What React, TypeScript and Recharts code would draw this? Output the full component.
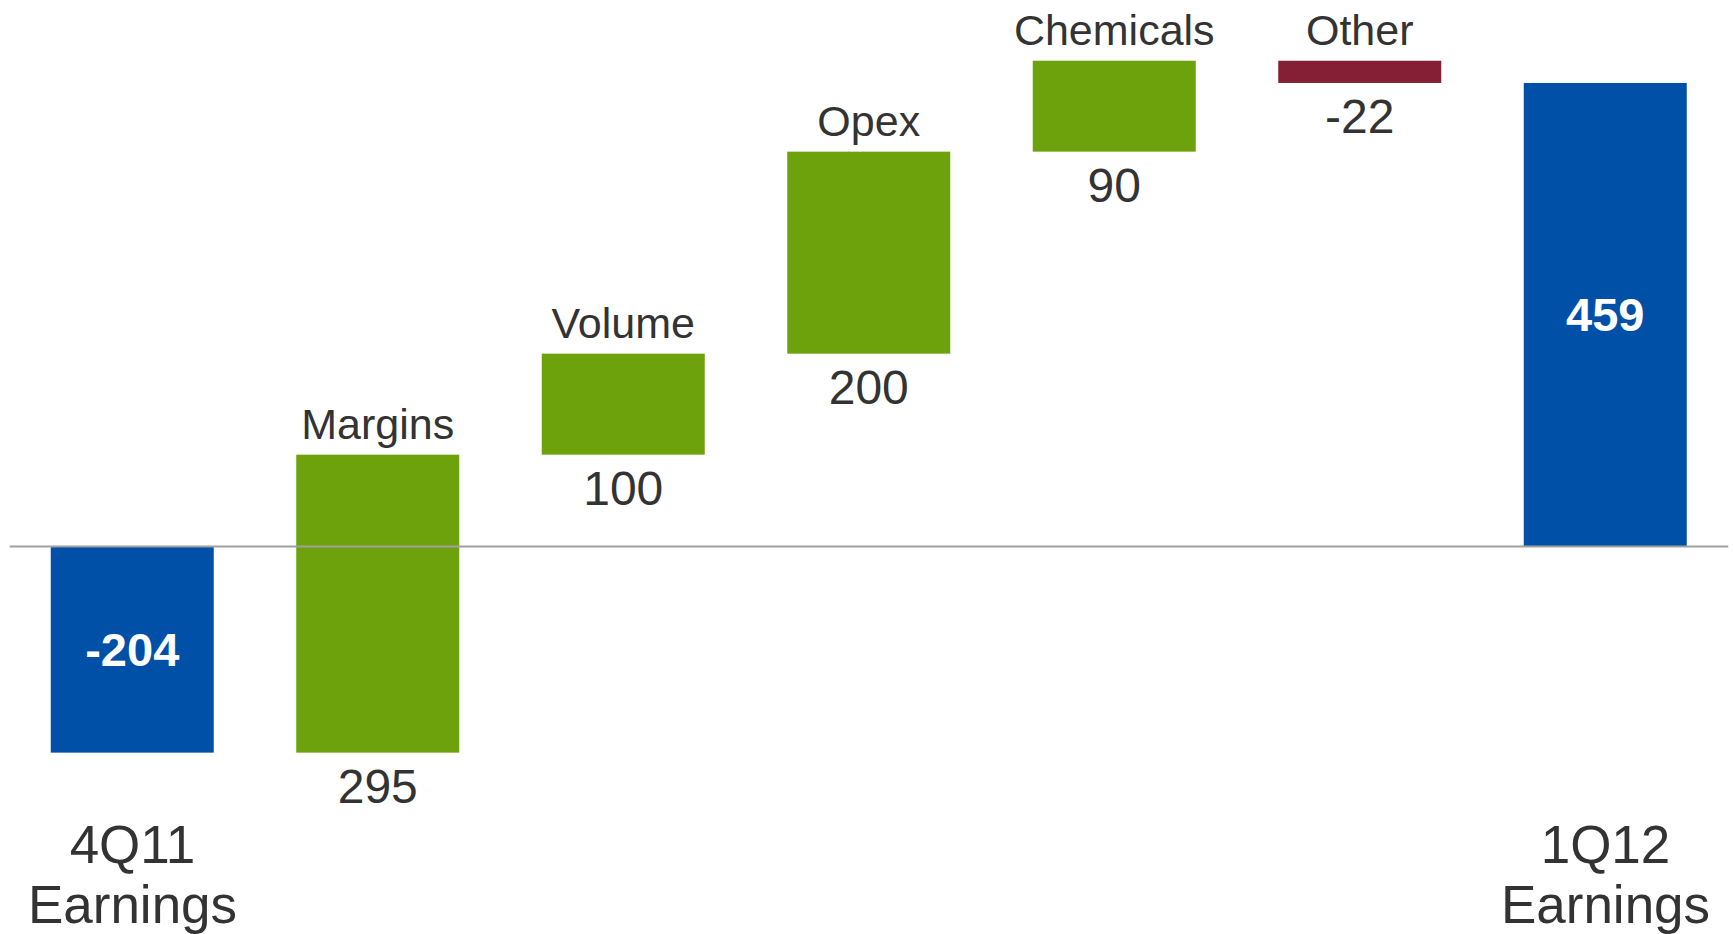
import React from "react";
import { BarChart, Bar, XAxis, YAxis, ReferenceLine } from "recharts";

const categories = ["4Q11 Earnings", "Margins", "Volume", "Opex", "Chemicals", "Other", "1Q12 Earnings"];
const kinds = ["total", "delta", "delta", "delta", "delta", "delta", "total"];
const values = [-204, 295, 100, 200, 90, -22, 459];
const tickLabelLines = [["4Q11", "Earnings"], [], [], [], [], [], ["1Q12", "Earnings"]];

const COLOR_TOTAL = "#0050A8";
const COLOR_UP = "#6EA20C";
const COLOR_DOWN = "#841F35";
const TEXT = "#333333";
const FONT = "'Liberation Sans', Arial, Helvetica, sans-serif";

let running = 0;
const data = categories.map((name, i) => {
  const v = values[i];
  let low: number;
  let high: number;
  if (kinds[i] === "total") {
    low = Math.min(0, v);
    high = Math.max(0, v);
    running = v;
  } else {
    const start = running;
    const end = running + v;
    low = Math.min(start, end);
    high = Math.max(start, end);
    running = end;
  }
  return { name, value: v, kind: kinds[i], range: [low, high], lines: tickLabelLines[i] };
});

const WaterfallShape = (props: any) => {
  const { x, y, width, height, payload } = props;
  const kind = payload.kind;
  const v = payload.value;
  const fill = kind === "total" ? COLOR_TOTAL : v >= 0 ? COLOR_UP : COLOR_DOWN;
  const top = Math.min(y, y + height);
  const h = Math.abs(height);
  const cx = x + width / 2;
  return (
    <g>
      <rect x={x} y={top} width={width} height={h} fill={fill} />
      {kind === "total" ? (
        <text x={cx} y={top + h / 2 + 16.5} textAnchor="middle" fill="#ffffff" fontWeight="bold" fontSize={47} fontFamily={FONT}>
          {v}
        </text>
      ) : (
        <>
          <text x={cx} y={top - 16} textAnchor="middle" fill={TEXT} fontSize={43} fontFamily={FONT}>
            {payload.name}
          </text>
          <text x={cx} y={top + h + 50} textAnchor="middle" fill={TEXT} fontSize={48} fontFamily={FONT}>
            {v}
          </text>
        </>
      )}
    </g>
  );
};

const TotalTick = (props: any) => {
  const { x, y, payload } = props;
  const lines: string[] = data[payload.index]?.lines ?? [];
  return (
    <g>
      {lines.map((t, k) => (
        <text key={k} x={x} y={y + 64 + k * 60} textAnchor="middle" fill={TEXT} fontSize={53} fontFamily={FONT}>
          {t}
        </text>
      ))}
    </g>
  );
};

export default function App() {
  return (
    <div style={{ position: "absolute", left: 0, top: 0, width: 1733, height: 934, background: "#ffffff" }}>
      <BarChart
        width={1733}
        height={934}
        data={data}
        margin={{ top: 41.55, right: 4.75, bottom: 34.9, left: 9.75 }}
      >
        <XAxis
          dataKey="name"
          axisLine={false}
          tickLine={false}
          tickSize={0}
          tickMargin={0}
          height={100}
          interval={0}
          tick={<TotalTick />}
        />
        <YAxis hide domain={[-250, 500]} type="number" />
        <Bar dataKey="range" barSize={163} isAnimationActive={false} shape={<WaterfallShape />} />
        <ReferenceLine y={0} stroke="#a0a0a0" strokeWidth={2} />
      </BarChart>
    </div>
  );
}
